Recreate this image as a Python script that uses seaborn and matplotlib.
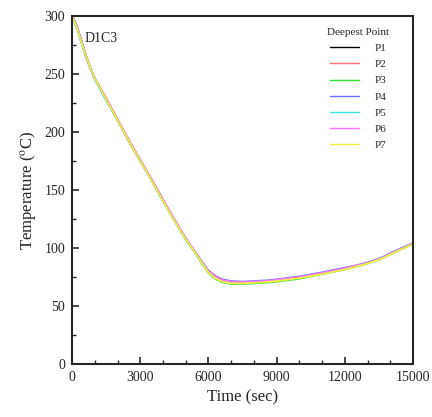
import pandas as pd
import numpy as np
import matplotlib.pyplot as plt
import seaborn as sns
from matplotlib.ticker import MultipleLocator

plt.switch_backend('Agg')

# time axis (sec)
time = [0, 100, 200, 400, 600, 800, 1000, 1500, 2000, 2500, 3000, 3500, 4000, 4500,
        5000, 5400, 5700, 6000, 6300, 6600, 7000, 7500, 8000, 8500, 9000, 10000,
        11000, 12000, 12500, 13000, 13300, 13700, 14000, 14500, 15000]

# temperature at each deepest point (deg C)
p1 = [300, 296, 291, 279, 266, 255, 246, 228, 210, 192, 175, 158.5, 141, 124,
      108, 97, 88, 80, 75.5, 72.5, 70.5, 70, 70.5, 71, 72, 74.5,
      78, 82, 84.5, 87, 89, 92, 95, 99.5, 104]
p2 = [300, 295, 290, 278, 265, 255, 246, 229, 211, 193, 176, 159, 141.5, 124.5,
      108, 97, 88, 80, 75, 72, 70.5, 70, 70.5, 71, 72, 74.5,
      78, 82, 84.5, 87, 89, 92, 95, 99.5, 104]
p3 = [300, 296, 291, 279, 266, 255, 246, 228, 210, 192, 175, 158, 140.5, 123.5,
      107, 96, 87, 78.5, 73.5, 70.5, 69, 69, 69.5, 70, 71, 73.5,
      77.5, 81.5, 84, 86.5, 88.5, 91.5, 94.5, 99, 103.5]
p4 = [300, 296, 291, 279, 266, 255, 246, 228, 210, 192, 175, 158.5, 141, 124,
      108, 97, 88.5, 80.5, 76, 73, 71.5, 71, 71.5, 72, 73, 75.5,
      79, 83, 85, 87.5, 89.5, 92.5, 95.5, 100, 104]
p5 = [300, 294, 289, 277, 265, 254, 245, 227, 210, 192, 175, 158, 140.5, 123.5,
      107.5, 96.5, 87.5, 79.5, 75, 72, 70.5, 70, 70.5, 71, 72, 74.5,
      78, 82, 84.5, 87, 89, 92, 95, 99.5, 104]
p6 = [300, 296, 291, 279, 266, 255, 246, 228.5, 210.5, 192.5, 175.5, 159, 141.5, 124.5,
      108, 97, 88, 80, 75.5, 72.5, 71, 70.5, 71, 71.5, 72.5, 75,
      78.5, 82.5, 85, 87, 89, 92, 95, 99.5, 104]
p7 = [300, 295, 290, 278, 266, 255, 246, 228, 210, 192, 175, 158, 140.5, 123.5,
      107.5, 96.5, 87.5, 79, 74, 71, 69.5, 69.5, 70, 70.5, 71.5, 74,
      77.5, 81.5, 84, 86.5, 88.5, 91.5, 94.5, 99, 103.5]

labels = ['P1', 'P2', 'P3', 'P4', 'P5', 'P6', 'P7']
colors = ['#000000', '#ff7070', '#30e030', '#7070ff', '#40e0e0', '#ff70ff', '#f0f040']

frames = []
for lab, vals in zip(labels, [p1, p2, p3, p4, p5, p6, p7]):
    frames.append(pd.DataFrame({'time': time, 'temp': vals, 'point': lab}))
df = pd.concat(frames, ignore_index=True)

sns.set_style('ticks')
plt.rcParams['font.family'] = ['Liberation Serif', 'DejaVu Serif']
plt.rcParams['mathtext.fontset'] = 'stix'

fig = plt.figure(figsize=(4.32, 4.17), dpi=100)
ax = fig.add_axes([0.167, 0.127, 0.789, 0.835])

sns.lineplot(data=df, x='time', y='temp', hue='point', palette=colors,
             linewidth=1.3, ax=ax, sort=False)

ax.set_xlim(0, 15000)
ax.set_ylim(0, 300)
ax.set_xticks([0, 3000, 6000, 9000, 12000, 15000])
ax.set_yticks([0, 50, 100, 150, 200, 250, 300])
ax.xaxis.set_minor_locator(MultipleLocator(1000))
ax.yaxis.set_minor_locator(MultipleLocator(25))
ax.tick_params(which='major', direction='in', length=5, width=1.2, labelsize=10, pad=5,
               top=False, right=False)
ax.tick_params(which='minor', direction='in', length=3, width=1.0, top=False, right=False)
for s in ax.spines.values():
    s.set_linewidth(1.5)

ax.set_xlabel('Time (sec)', fontsize=12)
ax.set_ylabel('Temperature ($^{\\mathrm{o}}$C)', fontsize=12)

ax.text(0.035, 0.955, 'D1C3', transform=ax.transAxes, fontsize=10, va='top', ha='left')

leg = ax.legend(title='Deepest Point', loc='upper right', bbox_to_anchor=(0.95, 0.985),
                frameon=False, fontsize=8, title_fontsize=8, handlelength=2.6,
                labelspacing=0.58, borderaxespad=0.2, handletextpad=1.4)
for line in leg.get_lines():
    line.set_linewidth(1.0)

plt.savefig('out.png', dpi=100)
